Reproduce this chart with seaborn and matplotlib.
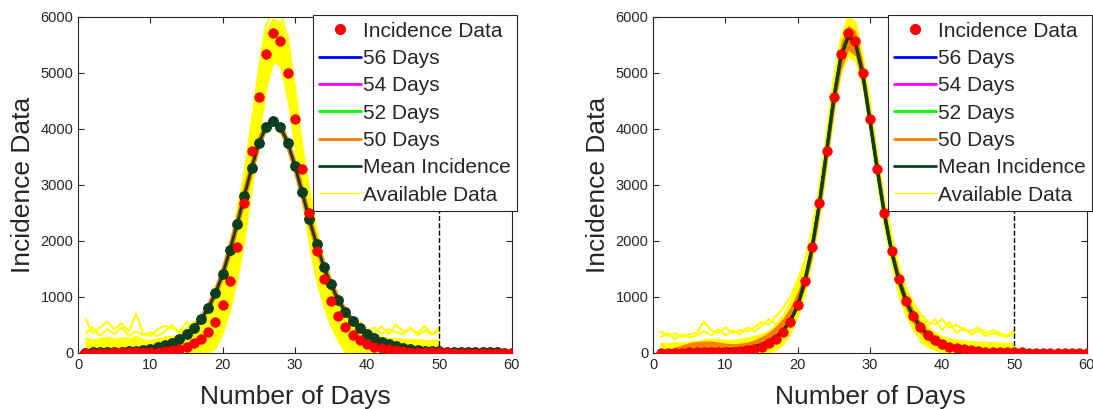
"""Fitted incidence curves vs. data, two panels."""

import matplotlib.pyplot as plt
import numpy as np
import seaborn as sns
from matplotlib.lines import Line2D

days = np.arange(1, 61)
avail_days = np.arange(1, 51)

# observed incidence (red dots), same in both panels
incidence = [2, 2, 3, 3, 4, 5, 6, 7, 8, 10,
             15, 25, 40, 62, 105, 166, 245, 364, 554, 852,
             1286, 1882, 2668, 3608, 4561, 5335, 5704, 5572, 5000, 4168,
             3286, 2490, 1822, 1311, 929, 655, 460, 320, 227, 163,
             110, 80, 57, 40, 29, 21, 15, 11, 8, 6,
             4, 3, 2, 2, 1, 1, 1, 1, 1, 1]

# left panel: mean of fitted curves
left_mean = [3, 4, 6, 9, 12, 18, 25, 35, 48, 66,
             96, 135, 179, 239, 328, 435, 596, 800, 1061, 1405,
             1834, 2293, 2800, 3293, 3740, 4031, 4137, 4031, 3750, 3340,
             2865, 2382, 1941, 1536, 1221, 941, 732, 566, 436, 334,
             257, 196, 150, 112, 85, 65, 50, 38, 30, 24,
             18, 14, 11, 9, 7, 6, 5, 4, 3, 3]

# left panel: available data realisations (solid core + spiky tops)
left_avail_low = [0, 0, 0, 0, 0, 0, 0, 0, 0, 0,
                  0, 0, 0, 0, 0, 0, 0, 0, 80, 350,
                  750, 1300, 2000, 2900, 3800, 4700, 5200, 5100, 4500, 3600,
                  2700, 1900, 1250, 800, 450, 200, 0, 0, 0, 0,
                  0, 0, 0, 0, 0, 0, 0, 0, 0, 0]
left_avail_mid = [280, 240, 260, 290, 250, 280, 260, 300, 240, 230,
                  260, 290, 300, 320, 340, 390, 520, 760, 1050, 1420,
                  1850, 2450, 3150, 4050, 4950, 5700, 5950, 5900, 5500, 4600,
                  3600, 2800, 2100, 1550, 1200, 900, 700, 540, 430, 350,
                  310, 290, 270, 260, 250, 240, 240, 230, 230, 230]
left_avail_high = [600, 350, 450, 550, 420, 520, 380, 700, 330, 300,
                   420, 480, 430, 380, 550, 450, 600, 800, 1100, 1450,
                   1900, 2500, 3200, 4100, 5050, 5850, 6100, 6050, 5650, 4750,
                   3700, 2900, 2200, 1650, 1300, 1000, 750, 580, 480, 420,
                   350, 470, 330, 500, 380, 420, 350, 480, 330, 450]
left_avail_spike = [350, 450, 300, 420, 330, 450, 300, 380, 320, 360,
                    300, 380, 500, 340, 440, 550, 520, 760, 1050, 1420,
                    1850, 2450, 3150, 4050, 4950, 5700, 5950, 5900, 5500, 4600,
                    3600, 2800, 2100, 1550, 1200, 900, 650, 470, 550, 400,
                    450, 330, 420, 360, 330, 450, 310, 400, 320, 380]

# right panel: mean of fitted curves
right_mean = [5, 10, 18, 27, 35, 42, 47, 50, 52, 55,
              60, 68, 82, 105, 145, 200, 280, 395, 570, 840,
              1280, 1880, 2660, 3590, 4540, 5300, 5650, 5530, 4980, 4150,
              3290, 2480, 1810, 1300, 920, 650, 455, 315, 220, 155,
              108, 76, 53, 38, 27, 19, 14, 10, 7, 5,
              4, 3, 2, 2, 1, 1, 1, 1, 1, 1]

# right panel: spread of the 50-day fits
right_fit50_low = [0, 0, 0, 10, 15, 20, 25, 30, 35, 40,
                   45, 55, 75, 100, 140, 200, 280, 390, 560, 800,
                   1150, 1700, 2450, 3350, 4300, 5050, 5400, 5300, 4750, 3950,
                   3100, 2300, 1650, 1150, 780, 520, 340, 220, 140, 90,
                   55, 35, 20, 12, 8, 5, 3, 2, 1, 1,
                   0, 0, 0, 0, 0, 0, 0, 0, 0, 0]
right_fit50_high = [30, 60, 100, 140, 180, 200, 210, 210, 190, 170,
                    160, 170, 190, 230, 290, 370, 480, 620, 820, 1100,
                    1450, 2050, 2850, 3800, 4750, 5550, 5850, 5750, 5200, 4350,
                    3500, 2650, 1950, 1450, 1050, 780, 560, 400, 290, 210,
                    155, 115, 85, 65, 50, 40, 32, 26, 20, 16,
                    13, 10, 8, 6, 5, 4, 3, 3, 2, 2]

# right panel: available data realisations
right_avail_low = [0, 0, 0, 0, 0, 0, 0, 0, 0, 0,
                   0, 0, 0, 0, 0, 0, 50, 150, 350, 650,
                   1050, 1650, 2400, 3300, 4250, 5000, 5300, 5200, 4700, 3900,
                   3000, 2200, 1550, 1000, 650, 400, 200, 100, 50, 0,
                   0, 0, 0, 0, 0, 0, 0, 0, 0, 0]
right_avail_mid = [180, 170, 190, 180, 200, 210, 240, 250, 240, 230,
                   230, 250, 270, 300, 340, 400, 500, 650, 900, 1200,
                   1600, 2150, 2900, 3850, 4850, 5550, 5950, 5850, 5250, 4400,
                   3500, 2700, 2050, 1500, 1100, 820, 600, 460, 370, 300,
                   260, 240, 220, 210, 200, 190, 190, 180, 180, 180]
right_avail_high = [380, 300, 350, 280, 330, 350, 560, 400, 350, 450,
                    350, 400, 380, 450, 550, 500, 650, 800, 1000, 1300,
                    1650, 2200, 2950, 3900, 4900, 5600, 6000, 5900, 5300, 4450,
                    3550, 2750, 2100, 1550, 1150, 900, 700, 550, 500, 600,
                    450, 500, 400, 380, 450, 350, 400, 350, 300, 400]
right_avail_spike = [280, 350, 240, 330, 270, 310, 380, 310, 420, 310,
                     400, 330, 450, 380, 480, 600, 500, 650, 900, 1200,
                     1600, 2150, 2900, 3850, 4850, 5550, 5950, 5850, 5250, 4400,
                     3500, 2700, 2050, 1500, 1100, 820, 700, 470, 600, 400,
                     550, 350, 450, 320, 400, 300, 350, 310, 280, 350]

legend_labels = ["Incidence Data", "56 Days", "54 Days", "52 Days",
                 "50 Days", "Mean Incidence", "Available Data"]

RED = "#ff0000"
BLUE = "#0000ff"
MAGENTA = "#ff00ff"
GREEN = "#00ff00"
ORANGE = "#ff8000"
DARK = "#0b3d1f"
YELLOW = "#ffff00"
AXIS = "#262626"

sns.set_style("ticks")
plt.rcParams["font.family"] = ["Liberation Sans", "DejaVu Sans"]
plt.rcParams["axes.edgecolor"] = AXIS
plt.rcParams["xtick.color"] = AXIS
plt.rcParams["ytick.color"] = AXIS


def _panel(ax, mean, avail, fit50=None):
    low, mid, high, spike = avail
    ax.fill_between(avail_days, low, mid, color=YELLOW, lw=0.8,
                    edgecolor=YELLOW, zorder=1)
    sns.lineplot(x=avail_days, y=high, color=YELLOW, lw=1.5, ax=ax, zorder=1)
    sns.lineplot(x=avail_days, y=spike, color=YELLOW, lw=1.5, ax=ax, zorder=1)
    for c in (BLUE, MAGENTA, GREEN):
        sns.lineplot(x=days, y=mean, color=c, lw=2, ax=ax, zorder=2)
    if fit50 is None:
        sns.lineplot(x=days, y=mean, color=ORANGE, lw=4, ax=ax, zorder=3)
        sns.lineplot(x=days, y=mean, color=DARK, lw=2, marker="o",
                     markersize=7, markeredgecolor=DARK, ax=ax, zorder=4)
    else:
        ax.fill_between(days, fit50[0], fit50[1], color=ORANGE, lw=0,
                        zorder=3)
        sns.lineplot(x=days, y=mean, color=DARK, lw=2.5, ax=ax, zorder=4)
    ax.axvline(50, color="black", ls="--", lw=1, zorder=5)
    sns.scatterplot(x=days, y=incidence, color=RED, s=50,
                    edgecolor="#c00000", linewidth=0.3, ax=ax, zorder=6)

    ax.set_xlim(0, 60)
    ax.set_ylim(0, 6000)
    ax.set_xticks(range(0, 61, 10))
    ax.set_yticks(range(0, 6001, 1000))
    ax.tick_params(direction="in", top=True, right=True, labelsize=10.5,
                   length=4, width=0.8)
    for s in ax.spines.values():
        s.set_visible(True)
        s.set_linewidth(0.8)
    ax.set_xlabel("Number of Days", fontsize=19, color=AXIS, labelpad=10)
    ax.set_ylabel("Incidence Data", fontsize=19, color=AXIS)

    handles = [
        Line2D([], [], ls="none", marker="o", color=RED, markersize=7),
        Line2D([], [], color=BLUE, lw=2),
        Line2D([], [], color=MAGENTA, lw=2),
        Line2D([], [], color=GREEN, lw=2),
        Line2D([], [], color=ORANGE, lw=2),
        Line2D([], [], color=DARK, lw=2),
        Line2D([], [], color=YELLOW, lw=1),
    ]
    leg = ax.legend(handles, legend_labels, loc="upper right",
                    bbox_to_anchor=(1.013, 1.004), borderaxespad=0,
                    fontsize=15, frameon=True, fancybox=False,
                    framealpha=1, edgecolor=AXIS, handlelength=2.0,
                    handletextpad=0.12, labelspacing=0.4, borderpad=0.3)
    leg.get_frame().set_linewidth(0.8)
    leg.set_zorder(10)


fig = plt.figure(figsize=(10.93, 4.09), dpi=100)
ax1 = fig.add_axes([0.0716, 0.1377, 0.3964, 0.8215])
ax2 = fig.add_axes([0.5977, 0.1377, 0.3964, 0.8215])

_panel(ax1, left_mean,
       (left_avail_low, left_avail_mid, left_avail_high, left_avail_spike))
_panel(ax2, right_mean,
       (right_avail_low, right_avail_mid, right_avail_high, right_avail_spike),
       (right_fit50_low, right_fit50_high))

fig.savefig("out.png", dpi=100)
